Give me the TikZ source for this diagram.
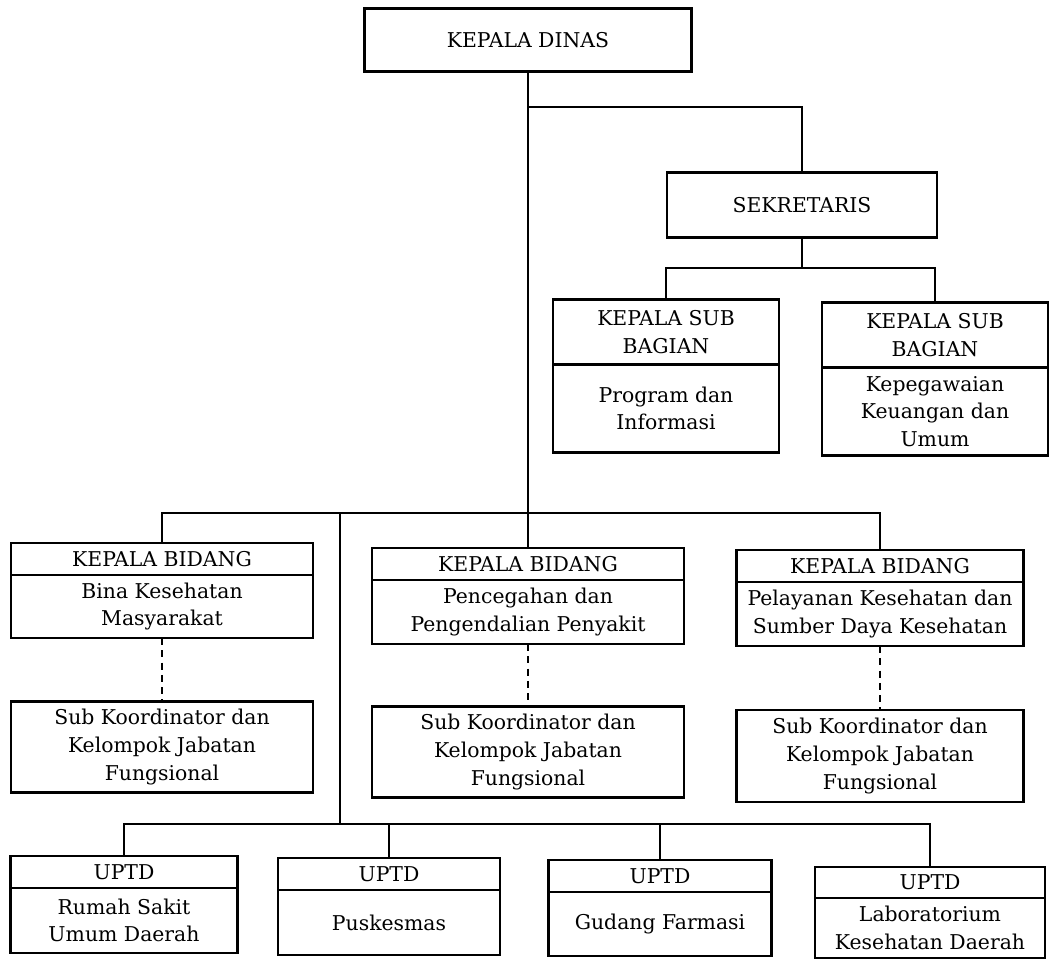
\documentclass[tikz,border=0pt]{standalone}
\usepackage{fontspec}
\setmainfont{DejaVu Serif}
\usetikzlibrary{positioning}
\tikzset{
  box/.style={draw, line width=1.2pt, outer sep=0pt, inner sep=2pt, align=center, font=\fontsize{11.6}{15.8}\selectfont},
  conn/.style={line width=1.2pt},
  dotconn/.style={line width=1.2pt, dash pattern=on 4pt off 3pt},
}
\begin{document}
\begin{tikzpicture}[x=0.02cm,y=-0.02cm]
  \useasboundingbox (0,0) rectangle (1050,960);
  \node[box, minimum width=6.54cm, minimum height=1.26cm] (kadis) at (528,40) {KEPALA DINAS}; % head of office
  \node[box, minimum width=5.4cm, minimum height=1.3cm] (sek) at (802,205) {SEKRETARIS}; % secretary
  % sub bagian
  \node[box, minimum width=4.52cm, minimum height=1.3cm] (s1h) at (666,332) {KEPALA SUB\\BAGIAN};
  \node[box, minimum width=4.52cm, minimum height=1.76cm, below=0pt of s1h] (s1b) {Program dan\\Informasi};
  \node[box, minimum width=4.52cm, minimum height=1.3cm] (s2h) at (935,335) {KEPALA SUB\\BAGIAN};
  \node[box, minimum width=4.52cm, minimum height=1.76cm, below=0pt of s2h] (s2b) {Kepegawaian\\Keuangan dan\\Umum};
  % bidang
  \node[box, minimum width=6.04cm, minimum height=0.64cm] (b1h) at (162,559) {KEPALA BIDANG};
  \node[box, minimum width=6.04cm, minimum height=1.26cm, below=0pt of b1h] (b1b) {Bina Kesehatan\\Masyarakat};
  \node[box, minimum width=6.24cm, minimum height=0.64cm] (b2h) at (528,564) {KEPALA BIDANG};
  \node[box, minimum width=6.24cm, minimum height=1.28cm, below=0pt of b2h] (b2b) {Pencegahan dan\\Pengendalian Penyakit};
  \node[box, minimum width=5.74cm, minimum height=0.64cm] (b3h) at (880,566) {KEPALA BIDANG};
  \node[box, minimum width=5.74cm, minimum height=1.28cm, below=0pt of b3h] (b3b) {Pelayanan Kesehatan dan\\Sumber Daya Kesehatan};
  % sub koordinator
  \node[box, minimum width=6.04cm, minimum height=1.82cm] (k1) at (162,747) {Sub Koordinator dan\\Kelompok Jabatan\\Fungsional};
  \node[box, minimum width=6.24cm, minimum height=1.82cm] (k2) at (528,752) {Sub Koordinator dan\\Kelompok Jabatan\\Fungsional};
  \node[box, minimum width=5.74cm, minimum height=1.84cm] (k3) at (880,756) {Sub Koordinator dan\\Kelompok Jabatan\\Fungsional};
  % uptd
  \node[box, minimum width=4.54cm, minimum height=0.64cm] (u1h) at (124,872) {UPTD};
  \node[box, minimum width=4.54cm, minimum height=1.3cm, below=0pt of u1h] (u1b) {Rumah Sakit\\Umum Daerah};
  \node[box, minimum width=4.44cm, minimum height=0.64cm] (u2h) at (389,874) {UPTD};
  \node[box, minimum width=4.44cm, minimum height=1.3cm, below=0pt of u2h] (u2b) {Puskesmas};
  \node[box, minimum width=4.46cm, minimum height=0.64cm] (u3h) at (660,876) {UPTD};
  \node[box, minimum width=4.46cm, minimum height=1.28cm, below=0pt of u3h] (u3b) {Gudang Farmasi};
  \node[box, minimum width=4.6cm, minimum height=0.62cm] (u4h) at (930,882.5) {UPTD};
  \node[box, minimum width=4.6cm, minimum height=1.2cm, below=0pt of u4h] (u4b) {Laboratorium\\Kesehatan Daerah};
  % junctions
  \coordinate (jsek) at (528,107);
  \coordinate (jsub) at (802,268);
  \coordinate (jbid) at (528,513);
  \coordinate (jtop) at (340,513);
  \coordinate (jupt) at (340,824);
  % lines
  \draw[conn] (kadis.south) -- (b2h.north); % main trunk
  \draw[conn] (jsek) -| (sek.north);
  \draw[conn] (sek.south) -- (jsub);
  \draw[conn] (s1h.north) |- (jsub) -| (s2h.north);
  \draw[conn] (b1h.north) |- (jbid) -| (b3h.north);
  \draw[conn] (jtop) -- (jupt); % to uptd
  \draw[conn] (u1h.north) |- (jupt) -| (u4h.north);
  \draw[conn] (u2h.north) -- (u2h.north |- jupt);
  \draw[conn] (u3h.north) -- (u3h.north |- jupt);
  \draw[dotconn] (b1b.south) -- (k1.north); % dotted lines
  \draw[dotconn] (b2b.south) -- (k2.north);
  \draw[dotconn] (b3b.south) -- (k3.north);
\end{tikzpicture}
\end{document}
